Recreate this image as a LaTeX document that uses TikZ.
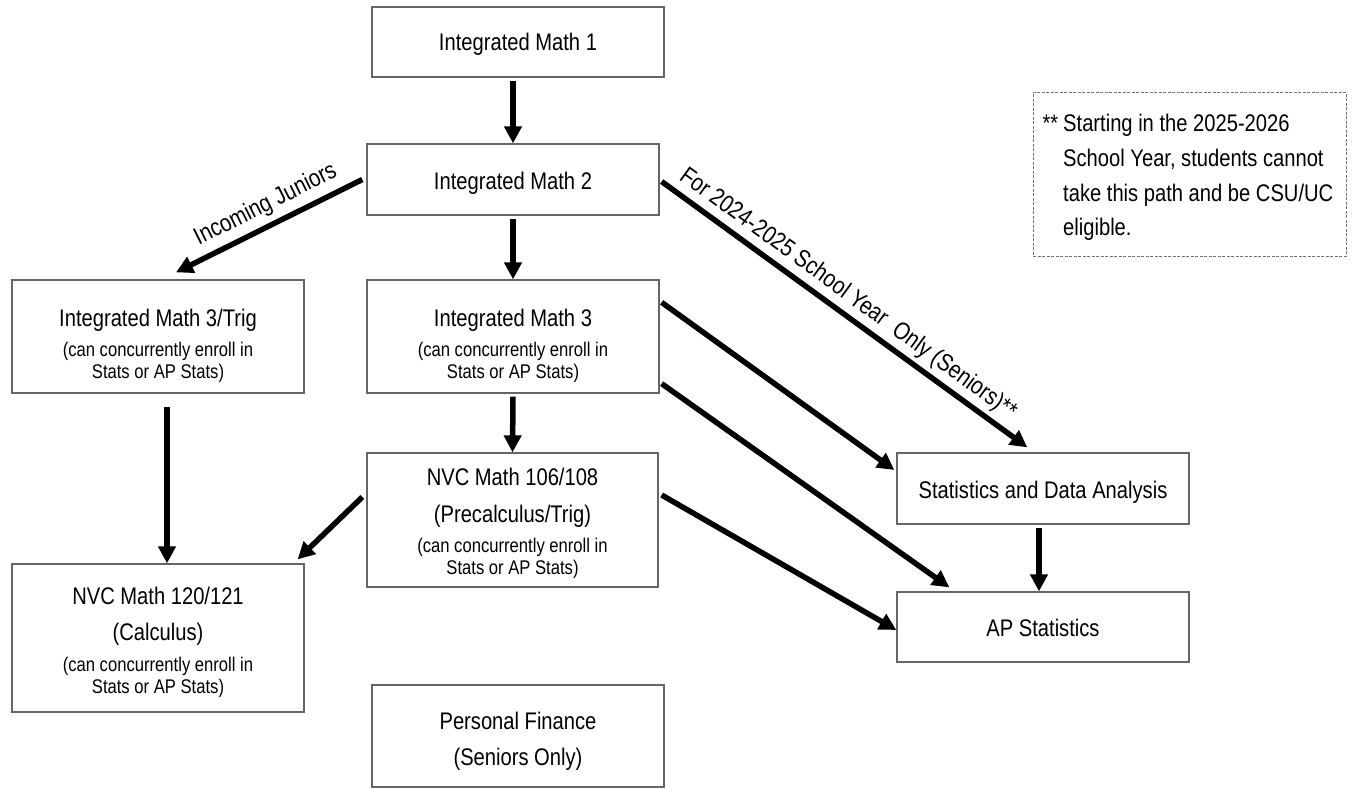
\documentclass[tikz,border=0pt]{standalone}
\usepackage{fontspec}
\setmainfont{Liberation Sans}[FakeStretch=0.84]
\usetikzlibrary{arrows.meta,calc,fit}
\newcommand\fbig{\fontsize{24}{28}\selectfont}
\newcommand\fsmall{\fontsize{19.8}{22}\selectfont}
\newcommand\flab{\fontsize{24.5}{28}\selectfont}
\tikzset{
  box/.style={draw=black!60, line width=1.3pt, inner sep=0pt, fill=white},
  note/.style={draw=black!55, line width=0.8pt, dash pattern=on 3pt off 1.5pt, inner sep=0pt},
  bt/.style={font=\fbig, anchor=base, inner sep=0pt},
  st/.style={font=\fsmall, anchor=base, inner sep=0pt},
  nt/.style={font=\fbig, anchor=base west, inner sep=0pt},
  lbl/.style={font=\flab, inner sep=0pt, sloped},
  arr/.style={line width=5.5pt, -{Triangle[length=17pt,width=17pt]}}
}
\begin{document}
\begin{tikzpicture}[x=1pt,y=-1pt]
\useasboundingbox (0,0) rectangle (1353,788);
\fill[white] (0,0) rectangle (1353,788);

% boxes
\node[box, fit={(372,7) (664,77)}] (im1) {};
\node[box, fit={(367,144) (659,215)}] (im2) {};
\node[box, fit={(12,280) (304,393)}] (trig) {};
\node[box, fit={(367,280) (659,393)}] (im3) {};
\node[box, fit={(367,453) (658,587)}] (nvca) {};
\node[box, fit={(12,564) (304,712)}] (nvcb) {};
\node[box, fit={(372,685) (664,787)}] (pf) {};
\node[box, fit={(897,453) (1189,524)}] (stats) {};
\node[box, fit={(897,592) (1189,662)}] (ap) {};
\node[note, fit={(1033,92) (1346,256)}] (note) {};

% texts
\node[bt] (im1t) at (518,50.6) {Integrated Math 1};
\node[bt] (im2t) at (513,189.6) {Integrated Math 2};
\node[bt] (trigt) at (158,326.6) {Integrated Math 3/Trig};
\node[st] (trigs1) at (158,356) {(can concurrently enroll in};
\node[st] (trigs2) at (158,378) {Stats or AP Stats)};
\node[bt] (im3t) at (513,326.6) {Integrated Math 3};
\node[st] (im3s1) at (513,356) {(can concurrently enroll in};
\node[st] (im3s2) at (513,378) {Stats or AP Stats)};
\node[bt] (nvcat1) at (512.5,485.6) {NVC Math 106/108};
\node[bt] (nvcat2) at (512.5,522.6) {(Precalculus/Trig)};
\node[st] (nvcas1) at (512.5,552) {(can concurrently enroll in};
\node[st] (nvcas2) at (512.5,574) {Stats or AP Stats)};
\node[bt] (nvcbt1) at (158,604.6) {NVC Math 120/121};
\node[bt] (nvcbt2) at (158,640.6) {(Calculus)};
\node[st] (nvcbs1) at (158,671) {(can concurrently enroll in};
\node[st] (nvcbs2) at (158,693) {Stats or AP Stats)};
\node[bt] (pft1) at (518,729.6) {Personal Finance};
\node[bt] (pft2) at (518,765.6) {(Seniors Only)};
\node[bt] (statst) at (1043,498.6) {Statistics and Data Analysis};
\node[bt] (apt) at (1043,636.6) {AP Statistics};
\node[nt] (nt1) at (1063,131.6) {\llap{**\hspace{5pt}}Starting in the 2025-2026};
\node[nt] (nt2) at (1063,166.3) {School Year, students cannot};
\node[nt] (nt3) at (1063,201) {take this path and be CSU/UC};
\node[nt] (nt4) at (1063,235.7) {eligible.};

% connectors
\draw[arr] ($(im2.north |- im1.south)+(0,3)$) -- (im2.north);
\draw[arr] ($(im2.south)+(0,3)$) -- (im3.north);
\draw[arr] ($(im3.south)+(0,3)$) -- (nvca.north);
\draw[arr] ($(trig.south)+(9,13)$) -- ($(nvcb.north)+(9,0)$);
\draw[arr] ($(im2.west)+(-4,0)$) -- ($(trig.north)+(18,-7)$)
  node[lbl, above=6pt, pos=0.47] (lab1) {Incoming Juniors};
\draw[arr] ($(im2.east)+(2,2)$) -- ($(stats.north west)+(131,-5)$)
  node[lbl, above=4pt, pos=0.48] (lab2) {For 2024-2025 School Year \ Only (Seniors)**};
\draw[arr] ($(im3.north east)+(2,23)$) -- ($(stats.west)+(-2,-18.5)$);
\draw[arr] ($(im3.south east)+(2,-10)$) -- ($(ap.north west)+(53,-4)$);
\draw[arr] ($(nvca.east)+(3,-25)$) -- ($(ap.west)+(0,3)$);
\draw[arr] ($(nvca.west)+(-4,-23)$) -- ($(nvcb.north east)+(-7,-4)$);
\draw[arr] ($(stats.south)+(-4,3)$) -- ($(ap.north)+(-4,0)$);
\end{tikzpicture}
\end{document}
